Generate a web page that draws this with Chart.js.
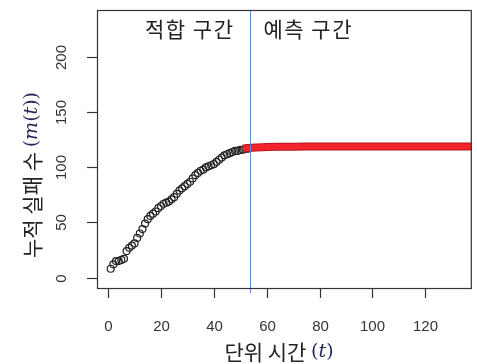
<!DOCTYPE html>
<html>
<head>
<meta charset="utf-8">
<script src="https://cdn.jsdelivr.net/npm/chart.js@4"></script>
<style>
  html, body { margin: 0; padding: 0; background: #fff; }
</style>
</head>
<body>
<canvas id="c" width="477" height="364"></canvas>
<script>
// 적합 구간: 단위 시간별 누적 실패 수
const timeFit = [1, 2, 3, 4, 5, 6, 7, 8, 9, 10, 11, 12, 13, 14, 15, 16, 17, 18, 19, 20,
  21, 22, 23, 24, 25, 26, 27, 28, 29, 30, 31, 32, 33, 34, 35, 36, 37, 38, 39, 40,
  41, 42, 43, 44, 45, 46, 47, 48, 49, 50, 51, 52, 53];
const failFit = [8, 12, 15, 15, 16, 17, 24, 27, 29, 31, 36, 40, 44, 49, 53, 56, 58, 60, 63, 65,
  67, 68, 69, 71, 73, 76, 79, 81, 83, 85, 87, 90, 93, 95, 97, 98, 100, 101, 102, 103,
  105, 107, 109, 111, 112, 113, 114, 115, 115, 116, 116, 117, 117];

// 예측 구간: 평균값 함수 m(t)
const timePred = [51, 53, 56, 60, 70, 80, 90, 100, 110, 120, 130, 138];
const failPred = [117, 117.6, 118.1, 118.5, 118.9, 119, 119.1, 119.1, 119.1, 119.1, 119.1, 119.1];

const splitTime = 53.5;
const xTicks = [0, 20, 40, 60, 80, 100, 120];
const yTicks = [0, 50, 100, 150, 200];

const pts = (xs, ys) => xs.map((x, i) => ({ x: x, y: ys[i] }));

const SANS = '"Liberation Sans", Arial, sans-serif';
const KR = '"Noto Sans CJK KR", sans-serif';
const SERIF = '"DejaVu Serif", "Liberation Serif", serif';

// 글자 조각들을 이어서 가운데 정렬로 그리기
function drawPieces(ctx, pieces, cx, cy) {
  let total = 0;
  pieces.forEach(p => { ctx.font = p.font; p.w = ctx.measureText(p.text).width; total += p.w; });
  let x = cx - total / 2;
  ctx.textAlign = 'left';
  ctx.textBaseline = 'middle';
  pieces.forEach(p => {
    ctx.font = p.font;
    ctx.fillStyle = p.color || '#222';
    ctx.fillText(p.text, x, cy + (p.dy || 0));
    x += p.w;
  });
}

const axesPlugin = {
  id: 'rAxes',
  afterDraw(chart) {
    const ctx = chart.ctx;
    const a = chart.chartArea;
    const xs = chart.scales.x, ys = chart.scales.y;
    ctx.save();

    // 구간 경계선
    const sx = xs.getPixelForValue(splitTime);
    ctx.strokeStyle = '#5b8fd3';
    ctx.lineWidth = 1;
    ctx.beginPath();
    ctx.moveTo(Math.round(sx) + 0.5, a.top);
    ctx.lineTo(Math.round(sx) + 0.5, a.bottom + 5);
    ctx.stroke();

    // 테두리
    ctx.strokeStyle = '#333';
    ctx.lineWidth = 1.2;
    ctx.strokeRect(a.left + 0.5, a.top + 0.5, a.right - a.left - 1, a.bottom - a.top);

    // x축 눈금
    ctx.fillStyle = '#333';
    ctx.font = '15px ' + SANS;
    ctx.textAlign = 'center';
    ctx.textBaseline = 'middle';
    xTicks.forEach(v => {
      const px = Math.round(xs.getPixelForValue(v)) + 0.5;
      ctx.beginPath();
      ctx.moveTo(px, a.bottom);
      ctx.lineTo(px, a.bottom + 10);
      ctx.stroke();
      ctx.fillText(String(v), px, 327);
    });

    // y축 눈금 (세로로 회전)
    yTicks.forEach(v => {
      const py = Math.round(ys.getPixelForValue(v)) + 0.5;
      ctx.beginPath();
      ctx.moveTo(a.left, py);
      ctx.lineTo(a.left - 10, py);
      ctx.stroke();
      ctx.save();
      ctx.translate(62, py);
      ctx.rotate(-Math.PI / 2);
      ctx.fillText(String(v), 0, 0);
      ctx.restore();
    });

    // 축 제목
    drawPieces(ctx, [
      { text: '단위 시간 ', font: '21px ' + KR },
      { text: '(', font: '19px ' + SERIF, color: '#1f2a55' },
      { text: 't', font: 'italic 19px ' + SERIF, color: '#1f2a55' },
      { text: ')', font: '19px ' + SERIF, color: '#1f2a55' }
    ], 279, 352);

    ctx.save();
    ctx.translate(32, 175);
    ctx.rotate(-Math.PI / 2);
    drawPieces(ctx, [
      { text: '누적 실패 수 ', font: '21px ' + KR },
      { text: '(', font: '19px ' + SERIF, color: '#1f2a55' },
      { text: 'm', font: 'italic 19px ' + SERIF, color: '#1f2a55' },
      { text: '(', font: '19px ' + SERIF, color: '#1f2a55' },
      { text: 't', font: 'italic 19px ' + SERIF, color: '#1f2a55' },
      { text: '))', font: '19px ' + SERIF, color: '#1f2a55' }
    ], 0, 0);
    ctx.restore();

    // 구간 이름
    ctx.fillStyle = '#222';
    ctx.font = '21px ' + KR;
    ctx.letterSpacing = '1.5px';
    ctx.textBaseline = 'middle';
    ctx.textAlign = 'right';
    ctx.fillText('적합 구간', sx - 15, 29);
    ctx.textAlign = 'left';
    ctx.fillText('예측 구간', sx + 14, 29);

    ctx.restore();
  }
};

new Chart(document.getElementById('c'), {
  type: 'scatter',
  data: {
    datasets: [
      {
        data: pts(timeFit, failFit),
        order: 3,
        showLine: false,
        pointRadius: 3.5,
        pointBorderWidth: 1.2,
        pointBorderColor: '#222',
        pointBackgroundColor: 'rgba(0,0,0,0)'
      },
      {
        data: pts(timePred, failPred),
        order: 2,
        showLine: true,
        borderColor: '#b3161d',
        borderWidth: 8,
        pointRadius: 0,
        tension: 0.3
      },
      {
        data: pts(timePred, failPred),
        order: 1,
        showLine: true,
        borderColor: '#f4232b',
        borderWidth: 6,
        pointRadius: 0,
        tension: 0.3
      }
    ]
  },
  options: {
    responsive: false,
    devicePixelRatio: 1,
    animation: false,
    layout: { padding: { left: 97, top: 10, right: 2, bottom: 76 } },
    plugins: { legend: { display: false }, tooltip: { enabled: false } },
    scales: {
      x: { type: 'linear', min: -4.2, max: 137.6, display: false },
      y: { type: 'linear', min: -9.5, max: 243, display: false }
    }
  },
  plugins: [axesPlugin]
});
</script>
</body>
</html>
